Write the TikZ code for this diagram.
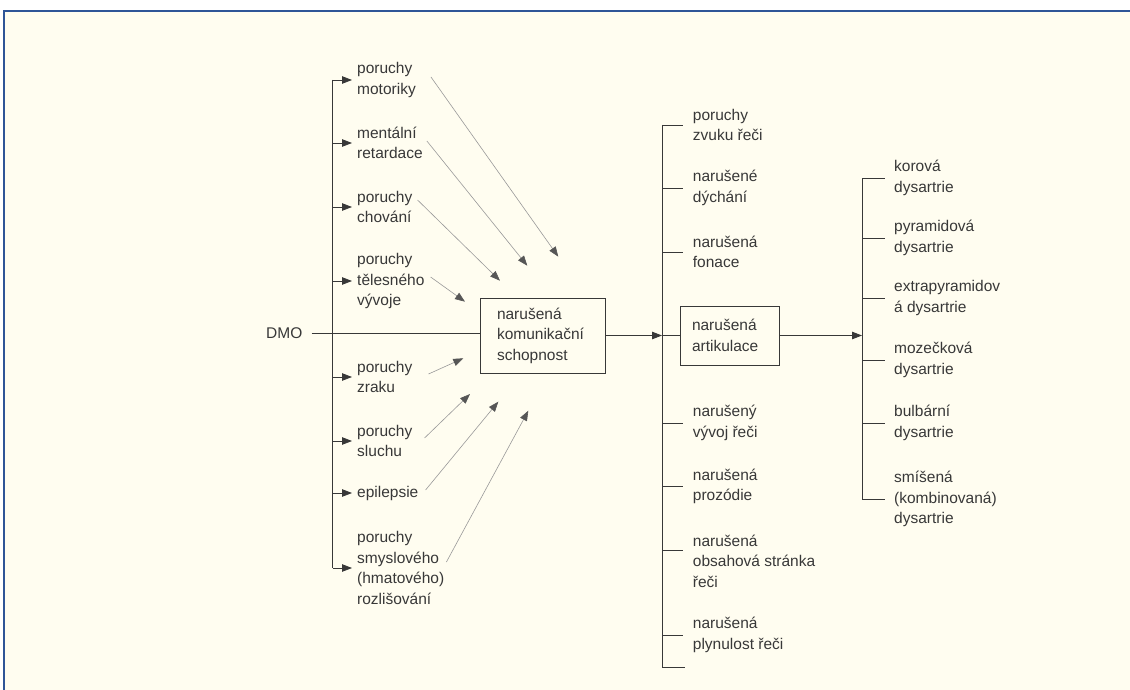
\documentclass[tikz,border=0pt]{standalone}
\usepackage{fontspec}
\setmainfont{Liberation Sans}
\usepackage{xcolor}
\usetikzlibrary{arrows.meta, calc}
\definecolor{paper}{HTML}{FFFDF0}
\definecolor{frameblue}{HTML}{2F5597}
\definecolor{ink}{HTML}{383838}
\tikzstyle{conn} = [draw=ink, line width=0.8pt]
\tikzstyle{arrow} = [conn, -{Triangle[length=10pt,width=7.5pt]}]
\tikzstyle{infl} = [draw=black!40, line width=0.6pt, -{Triangle[length=10pt,width=7.5pt,color=ink!85]}]
\tikzstyle{txt} = [anchor=west, align=left, inner sep=0pt, text=ink, font=\fontsize{15.5}{20.5}\selectfont]
\tikzstyle{box} = [draw=ink, line width=0.8pt, align=left, inner ysep=0pt, text=ink, font=\fontsize{15.5}{20.5}\selectfont]

\begin{document}
\begin{tikzpicture}[x=1pt,y=-1pt]
\useasboundingbox (0,0) rectangle (1130,690);

% Paper and frame
\fill[paper] (4,11) rectangle (1130,690);
\draw[frameblue, line width=2pt] (4,690) -- (4,11) -- (1130,11);

% Trunks
\coordinate (trunka) at (332.7,0);
\coordinate (trunkb) at (662,0);
\coordinate (trunkc) at (862,0);

% Left column
\node[txt] (dmo) at (266,333) {DMO};
\node[txt] (mot) at (357,80) {poruchy\\motoriky};
\node[txt] (men) at (357,143) {mentální\\retardace};
\node[txt] (cho) at (357,207) {poruchy\\chování};
\node[txt] (tel) at (357,281) {poruchy\\tělesného\\vývoje};
\node[txt] (zra) at (357,377) {poruchy\\zraku};
\node[txt] (slu) at (357,441) {poruchy\\sluchu};
\node[txt] (epi) at (357,493) {epilepsie};
\node[txt] (smy) at (357,568) {poruchy\\smyslového\\(hmatového)\\rozlišování};

\draw[conn] (mot.west -| trunka) -- (smy.west -| trunka);
\foreach \n in {mot,men,cho,tel,zra,slu,epi,smy}
  \draw[arrow, shorten >=5pt] (\n.west -| trunka) -- (\n.west);

% Central boxes
\node[box, text width=91pt, inner xsep=17pt, minimum height=75pt] (komm) at (542.5,335.5) {narušená\\komunikační\\schopnost};
\node[box, text width=75pt, inner xsep=12pt, minimum height=59pt] (artik) at (729.5,335.5) {narušená\\artikulace};

\draw[conn, shorten <=9pt] (dmo.east) -- (komm.west |- dmo.east);
\draw[arrow] (komm.east) -- (komm.east -| trunkb);
\draw[conn] (komm.east -| trunkb) -- (artik.west);
\draw[arrow] (artik.east) -- (artik.east -| trunkc);

% Influences
\coordinate (imot) at (558.3,256.7);
\coordinate (imen) at (527.3,265.7);
\coordinate (icho) at (500,280.7);
\coordinate (itel) at (465,301.7);
\coordinate (izra) at (463.3,358.3);
\coordinate (islu) at (470,394);
\coordinate (iepi) at (498.3,401.7);
\coordinate (ismy) at (528.3,410.7);
\draw[infl] ([xshift=15pt,yshift=3pt]mot.east) -- (imot);
\draw[infl] ([xshift=4pt,yshift=2pt]men.east) -- (imen);
\draw[infl] ([xshift=5pt,yshift=7pt]cho.east) -- (icho);
\draw[infl] ([xshift=6pt,yshift=4pt]tel.east) -- (itel);
\draw[infl] ([xshift=16pt,yshift=3pt]zra.east) -- (izra);
\draw[infl] ([xshift=12pt,yshift=3pt]slu.east) -- (islu);
\draw[infl] ([xshift=7pt,yshift=3pt]epi.east) -- (iepi);
\draw[infl] ([xshift=2pt,yshift=6pt]smy.east) -- (ismy);

% Middle column
\node[txt] (zvu) at (692.7,125) {poruchy\\zvuku řeči};
\node[txt] (dyc) at (692.7,188) {narušené\\dýchání};
\node[txt] (fon) at (692.7,252) {narušená\\fonace};
\node[txt] (vyv) at (692.7,423) {narušený\\vývoj řeči};
\node[txt] (pro) at (692.7,486.5) {narušená\\prozódie};
\node[txt] (obs) at (692.7,561) {narušená\\obsahová stránka\\řeči};
\node[txt] (ply) at (692.7,635) {narušená\\plynulost řeči};
\coordinate (endb) at (662,667);

\draw[conn] (zvu.west -| trunkb) -- (endb) -- ++(23,0);
\foreach \n in {zvu,dyc,fon,vyv,pro,ply}
  \draw[conn, shorten >=9.4pt] (\n.west -| trunkb) -- (\n.west);
\draw[conn, shorten >=9.4pt] ([yshift=10.5pt]obs.west -| trunkb) -- ([yshift=10.5pt]obs.west);

% Right column
\node[txt] (kor) at (894,178) {korová\\dysartrie};
\node[txt] (pyr) at (894,238) {pyramidová\\dysartrie};
\node[txt] (ext) at (894,298) {extrapyramidov\\á dysartrie};
\node[txt] (moz) at (894,360) {mozečková\\dysartrie};
\node[txt] (bul) at (894,423) {bulbární\\dysartrie};
\node[txt] (smi) at (894,499) {smíšená\\(kombinovaná)\\dysartrie};

\draw[conn, shorten >=9pt] (kor.west -| trunkc) -- (kor.west);
\draw[conn] (kor.west -| trunkc) -- (smi.west -| trunkc) -- ([xshift=-9pt]smi.west);
\foreach \n in {pyr,ext,moz,bul}
  \draw[conn, shorten >=9pt] (\n.west -| trunkc) -- (\n.west);
\end{tikzpicture}
\end{document}
